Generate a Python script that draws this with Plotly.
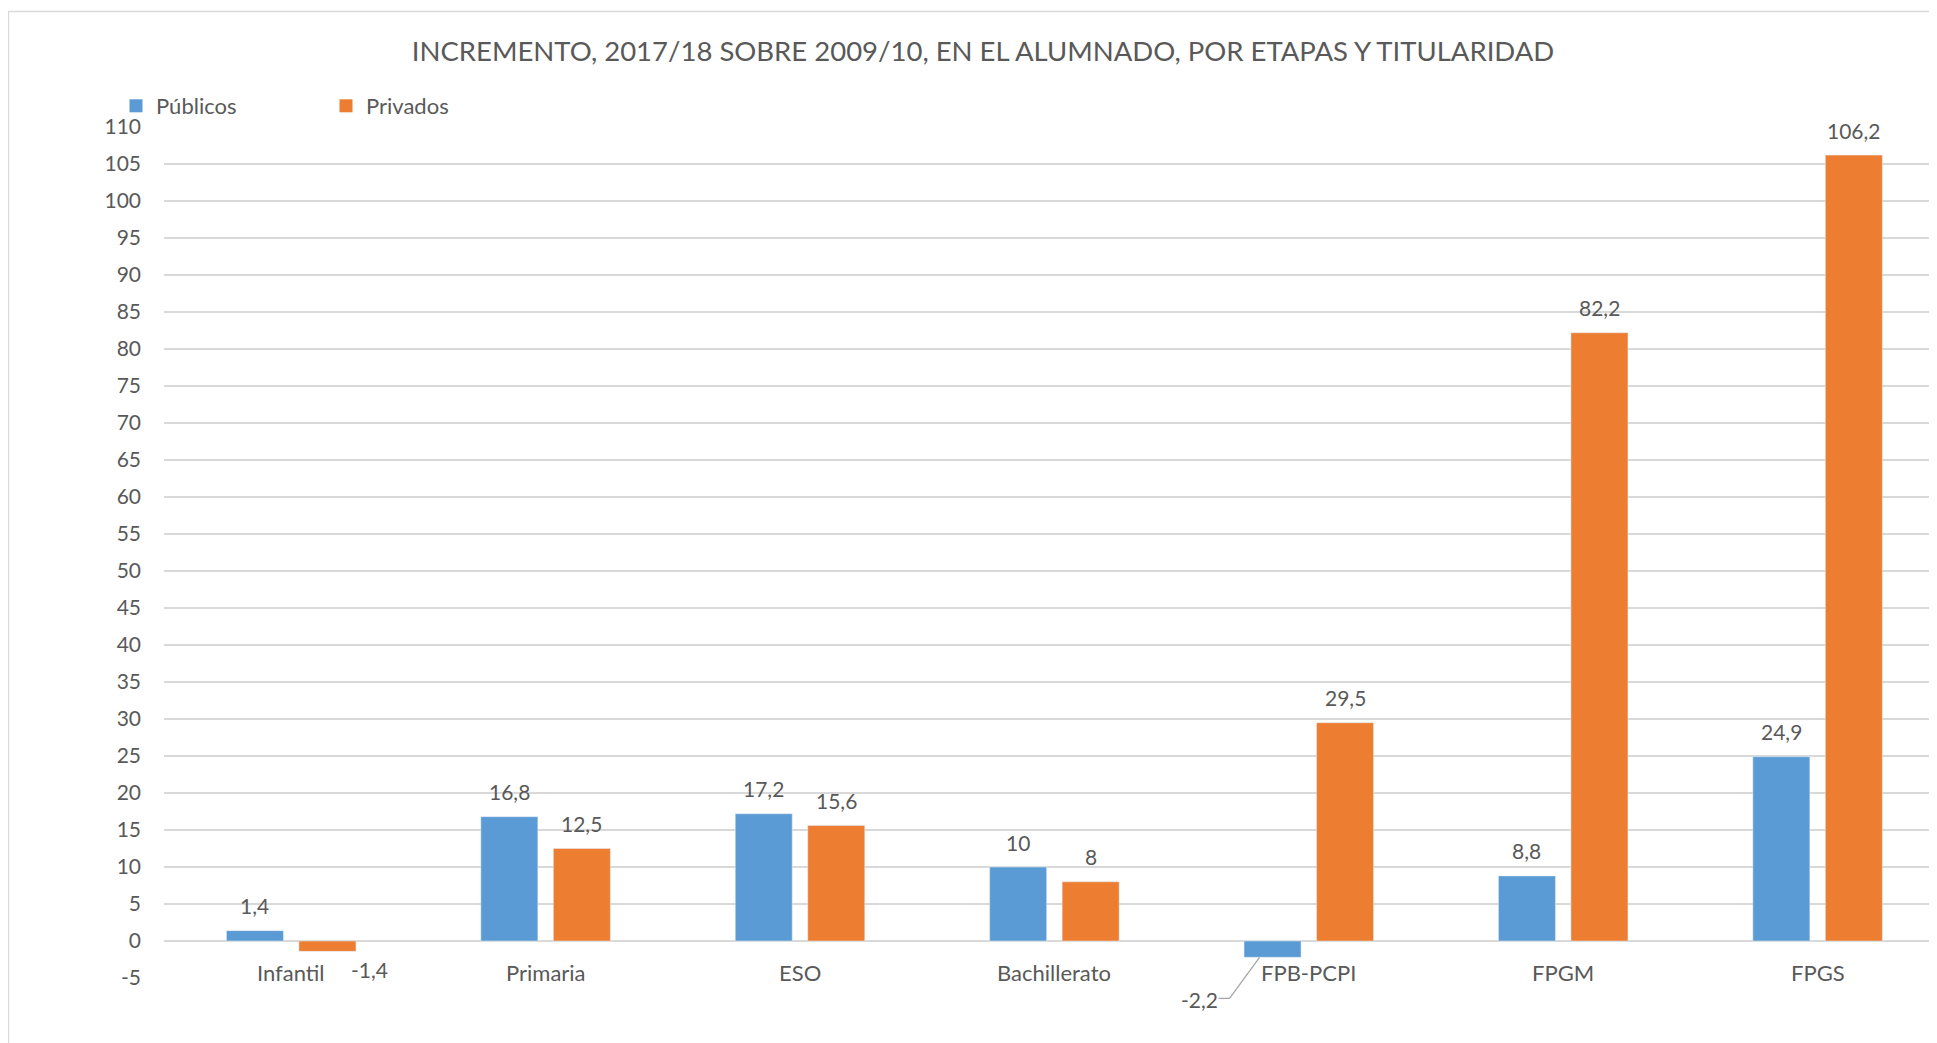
import plotly.graph_objects as go

categories = ["Infantil", "Primaria", "ESO", "Bachillerato", "FPB-PCPI", "FPGM", "FPGS"]
publicos = [1.4, 16.8, 17.2, 10, -2.2, 8.8, 24.9]
privados = [-1.4, 12.5, 15.6, 8, 29.5, 82.2, 106.2]
y_ticks = list(range(-5, 111, 5))
Y_MIN, Y_MAX = -5, 110

BLUE = "#5B9BD5"
ORANGE = "#ED7D31"
TXT = "#595959"
GRID = "#D9D9D9"
FONT = "Lato"

# page body has an 8px margin; figure is sized to fill the rest of the window
W, H = 1929, 1035
ML, MR, MT, MB = 156, 0, 119, 65
BARGAP = 0.43
GROUPGAP = 0.214
PX_PER_CAT = 254.4
plot_w = W - ML - MR
plot_h = H - MT - MB
x_max = -0.5 + plot_w / PX_PER_CAT


def fmt(v):
    s = ("%.1f" % v).rstrip("0").rstrip(".")
    return s.replace(".", ",")


fig = go.Figure()
fig.add_trace(go.Bar(name="Públicos", x=categories, y=publicos, marker_color=BLUE,
                     showlegend=False))
fig.add_trace(go.Bar(name="Privados", x=categories, y=privados, marker_color=ORANGE,
                     showlegend=False))
# legend entries with square swatches
for name, col in (("Públicos", BLUE), ("Privados", ORANGE)):
    fig.add_trace(go.Scatter(name=name, x=[None], y=[None], mode="markers",
                             marker=dict(symbol="square", size=13, color=col),
                             showlegend=True, hoverinfo="skip"))

off = (1 - BARGAP) / 4  # offset of each bar center from category center
annotations = []
special = {
    ("pub", 4): dict(xshift=-73, yshift=-42),
    ("priv", 0): dict(xshift=42, yshift=-18),
}
for key, vals, sign in (("pub", publicos, -1), ("priv", privados, 1)):
    for i, v in enumerate(vals):
        sh = special.get((key, i), dict(xshift=0, yshift=25))
        annotations.append(dict(
            x=i + sign * off, y=v, xref="x", yref="y", text=fmt(v), showarrow=False,
            xanchor="center", yanchor="middle", font=dict(family=FONT, size=21, color=TXT),
            **sh))

for i, c in enumerate(categories):
    annotations.append(dict(
        x=i, y=0, xref="x", yref="y", text=c, showarrow=False, yshift=-31,
        xanchor="center", yanchor="middle", font=dict(family=FONT, size=22, color=TXT)))

shapes = []
# leader line for FPB-PCPI públicos label (paper y so it is not clipped)
shapes.append(dict(
    type="path", xref="x", yref="paper", xsizemode="pixel", ysizemode="pixel",
    xanchor=4 - off, yanchor=(publicos[4] - Y_MIN) / (Y_MAX - Y_MIN),
    path="M -13,0 L -43,-41 L -54,-41",
    line=dict(color="#A6A6A6", width=1.3)))

# outer chart frame
fx0 = (0.5 - ML) / plot_w
fy1 = 1 + (MT - 3.5) / plot_h
fy0 = -(MB + 20) / plot_h
shapes.append(dict(type="rect", xref="paper", yref="paper", x0=fx0, x1=1.2, y0=fy0, y1=fy1,
                   line=dict(color=GRID, width=1.3), layer="below"))

fig.update_layout(
    width=W, height=H,
    margin=dict(l=ML, r=MR, t=MT, b=MB),
    paper_bgcolor="white", plot_bgcolor="white",
    barmode="group", bargap=BARGAP, bargroupgap=GROUPGAP,
    title=dict(text="INCREMENTO, 2017/18 SOBRE 2009/10, EN EL ALUMNADO, POR ETAPAS Y TITULARIDAD",
               x=975 / W, xref="container", xanchor="center", y=1 - 43.5 / H, yref="container",
               yanchor="middle", font=dict(family=FONT, size=27.5, color=TXT)),
    font=dict(family=FONT, size=21, color=TXT),
    showlegend=True,
    legend=dict(orientation="h", x=(108 - ML) / plot_w, xanchor="left", y=1 + (MT - 98) / plot_h,
                yanchor="middle", font=dict(family=FONT, size=22, color=TXT),
                entrywidth=165, entrywidthmode="pixels", bgcolor="rgba(0,0,0,0)",
                itemclick=False, tracegroupgap=0),
    xaxis=dict(type="category", range=[-0.5, x_max], showticklabels=False, showgrid=False,
               zeroline=False, showline=False, ticks=""),
    yaxis=dict(range=[Y_MIN, Y_MAX], tickvals=y_ticks, ticktext=[str(t) for t in y_ticks],
               showgrid=True, gridcolor=GRID, gridwidth=1.5, zeroline=True, zerolinecolor=GRID,
               zerolinewidth=1.5, showline=False, ticks="", ticklabelstandoff=22,
               tickfont=dict(family=FONT, size=21, color=TXT)),
    annotations=annotations,
    shapes=shapes,
)

fig.write_html("out.html")
